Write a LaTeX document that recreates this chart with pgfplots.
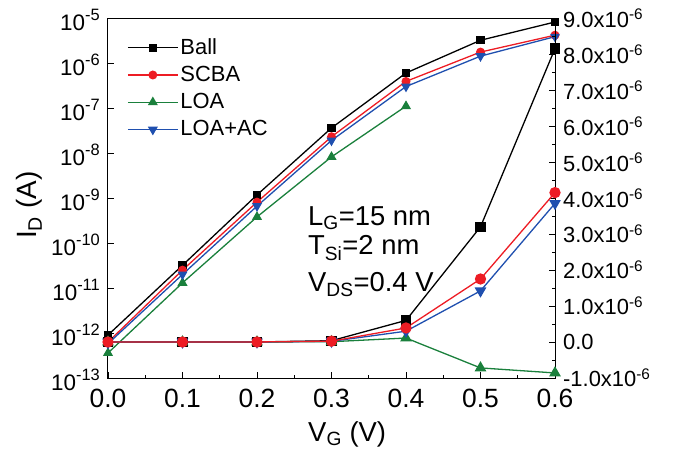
\documentclass[border=0pt]{standalone}
\usepackage{fontspec}
\setmainfont{Liberation Sans}
\usepackage{pgfplots}
\pgfplotsset{compat=1.18}
\definecolor{cred}{RGB}{237,28,36}
\definecolor{cgreen}{RGB}{26,128,60}
\definecolor{cblue}{RGB}{31,79,175}

\newcommand{\fs}[1]{\fontsize{#1}{#1}\selectfont}
% exponent for the log tick labels (bigger than \textsuperscript)
\newcommand{\ex}[1]{\raisebox{0.42em}{\fs{16.5}#1}}

\pgfplotsset{
  common/.style={
    scale only axis, width=447bp, height=360bp,
    xmin=0, xmax=0.6,
    tick align=inside,
    major tick length=6bp, minor tick length=3.5bp,
    every tick/.style={black, line width=0.8bp},
    axis line style={line width=1bp},
    every axis plot/.append style={line width=1.3bp},
  },
}

\begin{document}
\begin{tikzpicture}
\path[use as bounding box] (-108bp,-77bp) rectangle (568bp,378bp);

% left axis: log scale
\begin{axis}[common,
  ymode=log, log basis y=10, ymin=1e-13, ymax=1e-5,
  xtick={0,0.1,0.2,0.3,0.4,0.5,0.6},
  xticklabels={0.0,0.1,0.2,0.3,0.4,0.5,0.6},
  minor x tick num=1,
  ytickten={-13,-12,-11,-10,-9,-8,-7,-6,-5},
  yticklabels={10\ex{-13},10\ex{-12},10\ex{-11},10\ex{-10},10\ex{-9},10\ex{-8},10\ex{-7},10\ex{-6},10\ex{-5}},
  xtick pos=bottom, ytick pos=left,
  xticklabel style={font=\fs{26.5}, anchor=base, inner sep=0pt, yshift=-29bp},
  yticklabel style={font=\fs{22.5}, anchor=east, inner sep=0pt, xshift=-8bp, yshift=-2bp},
  xlabel={V\textsubscript{G} (V)},
  ylabel={I\textsubscript{D} (A)},
  every axis x label/.style={at={(axis description cs:0.535,-0.175)}, anchor=base, font=\fs{27.5}},
  every axis y label/.style={at={(axis description cs:-0.159,0.48)}, rotate=90, anchor=base, font=\fs{28}},
  legend style={draw=none, fill=none, at={(0.0425,0.956)}, anchor=north west,
    inner sep=0pt, font=\fs{22}, row sep=0pt,
    nodes={inner sep=2bp, text height=18bp, text depth=5.3bp}},
  legend cell align=left,
  legend image code/.code={\draw[mark repeat=2,mark phase=2] plot coordinates {(0bp,0bp)(25bp,0bp)(50bp,0bp)};},
]
\addplot[black, mark=square*, mark size=3.5bp, mark options={solid, fill=black}]
  coordinates {(0,9e-13)(0.1,3.2e-11)(0.2,1.17e-9)(0.3,3.6e-8)(0.4,6e-7)(0.5,3.2e-6)(0.6,8.15e-6)};
\addlegendentry{Ball}
\addplot[cred, mark=*, mark size=3.8bp, mark options={solid, fill=cred}]
  coordinates {(0,6.3e-13)(0.1,2.5e-11)(0.2,8.1e-10)(0.3,2.3e-8)(0.4,3.9e-7)(0.5,1.75e-6)(0.6,4.15e-6)};
\addlegendentry{SCBA}
\addplot[cgreen, mark=triangle*, mark size=4.5bp, mark options={solid, fill=cgreen}]
  coordinates {(0,3.6e-13)(0.1,1.3e-11)(0.2,3.8e-10)(0.3,8.2e-9)(0.4,1.1e-7)};
\addlegendentry{LOA}
\addplot[cblue, mark=triangle*, mark size=4.5bp, mark options={solid, fill=cblue, rotate=180}]
  coordinates {(0,5.8e-13)(0.1,2e-11)(0.2,6.6e-10)(0.3,1.9e-8)(0.4,3e-7)(0.5,1.42e-6)(0.6,3.85e-6)};
\addlegendentry{LOA+AC}

\node[anchor=base west, font=\fs{27.5}] at (rel axis cs:0.44,0.425) {L\textsubscript{G}=15 nm};
\node[anchor=base west, font=\fs{27.5}] at (rel axis cs:0.44,0.342) {T\textsubscript{Si}=2 nm};
\node[anchor=base west, font=\fs{27.5}] at (rel axis cs:0.44,0.239) {V\textsubscript{DS}=0.4 V};
\end{axis}

% right axis: linear scale
\begin{axis}[common,
  axis x line=none, axis y line*=right,
  ymin=-1e-6, ymax=9e-6, scaled y ticks=false,
  ytick={-1e-6,0,1e-6,2e-6,3e-6,4e-6,5e-6,6e-6,7e-6,8e-6,9e-6},
  yticklabels={-1.0x10\textsuperscript{-6},0.0,1.0x10\textsuperscript{-6},2.0x10\textsuperscript{-6},3.0x10\textsuperscript{-6},4.0x10\textsuperscript{-6},5.0x10\textsuperscript{-6},6.0x10\textsuperscript{-6},7.0x10\textsuperscript{-6},8.0x10\textsuperscript{-6},9.0x10\textsuperscript{-6}},
  minor y tick num=1,
  yticklabel style={font=\fs{22}, anchor=west, inner sep=0pt, xshift=8bp},
]
\addplot[black, mark=square*, mark size=4.5bp, mark options={solid, fill=black}]
  coordinates {(0,9e-13)(0.1,3.2e-11)(0.2,1.17e-9)(0.3,3.6e-8)(0.4,6e-7)(0.5,3.2e-6)(0.6,8.15e-6)};
\addplot[cgreen, mark=triangle*, mark size=5.5bp, mark options={solid, fill=cgreen}]
  coordinates {(0,3.6e-13)(0.1,1.3e-11)(0.2,3.8e-10)(0.3,8.2e-9)(0.4,1.1e-7)(0.5,-0.72e-6)(0.6,-0.86e-6)};
\addplot[cblue, mark=triangle*, mark size=5.5bp, mark options={solid, fill=cblue, rotate=180}]
  coordinates {(0,5.8e-13)(0.1,2e-11)(0.2,6.6e-10)(0.3,1.9e-8)(0.4,3e-7)(0.5,1.42e-6)(0.6,3.85e-6)};
\addplot[cred, mark=*, mark size=5bp, mark options={solid, fill=cred}]
  coordinates {(0,6.3e-13)(0.1,2.5e-11)(0.2,8.1e-10)(0.3,2.3e-8)(0.4,3.9e-7)(0.5,1.75e-6)(0.6,4.15e-6)};
\end{axis}
\end{tikzpicture}
\end{document}
